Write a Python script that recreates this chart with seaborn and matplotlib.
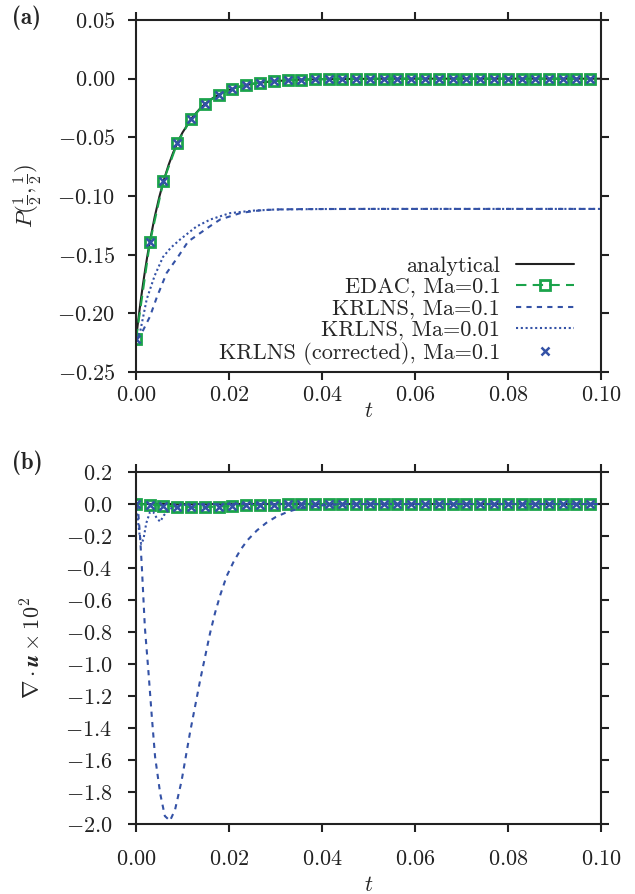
import numpy as np
import pandas as pd
import matplotlib
matplotlib.use("Agg")
import matplotlib.pyplot as plt
from matplotlib.ticker import FuncFormatter, MultipleLocator
import seaborn as sns

# ---------------- data ----------------
# marker sample times (EDAC / KRLNS corrected)
t_mark = [0.0000, 0.0030, 0.0059, 0.0089, 0.0118, 0.0148, 0.0178, 0.0207, 0.0237,
          0.0266, 0.0296, 0.0326, 0.0355, 0.0385, 0.0414, 0.0444, 0.0474, 0.0503,
          0.0533, 0.0562, 0.0592, 0.0622, 0.0651, 0.0681, 0.0710, 0.0740, 0.0770,
          0.0799, 0.0829, 0.0858, 0.0888, 0.0918, 0.0947, 0.0977]

# panel (a): pressure at the centre
t_ana = [0.0, 0.0005, 0.001, 0.0015, 0.002, 0.0025, 0.003, 0.004, 0.005, 0.006, 0.007,
         0.008, 0.009, 0.010, 0.012, 0.014, 0.016, 0.018, 0.020, 0.023, 0.026, 0.030,
         0.035, 0.040, 0.050, 0.060, 0.080, 0.100]
p_ana = [-0.2220, -0.2052, -0.1896, -0.1752, -0.1619, -0.1496, -0.1383, -0.1181, -0.1009,
         -0.0862, -0.0736, -0.0629, -0.0537, -0.0459, -0.0335, -0.0244, -0.0178, -0.0130,
         -0.0095, -0.0059, -0.0037, -0.0020, -0.0009, -0.0004, -0.0001, 0.0, 0.0, 0.0]
p_edac = [-0.2220, -0.1392, -0.0873, -0.0547, -0.0343, -0.0215, -0.0135, -0.0085, -0.0053,
          -0.0033, -0.0021, -0.0013, -0.0008, -0.0005, -0.0003, -0.0002, -0.0001, -0.0001,
          0.0, 0.0, 0.0, 0.0, 0.0, 0.0, 0.0, 0.0, 0.0, 0.0, 0.0, 0.0, 0.0, 0.0, 0.0, 0.0]
p_corr = [-0.2220, -0.1392, -0.0873, -0.0547, -0.0343, -0.0215, -0.0135, -0.0085, -0.0053,
          -0.0033, -0.0021, -0.0013, -0.0008, -0.0005, -0.0003, -0.0002, -0.0001, -0.0001,
          0.0, 0.0, 0.0, 0.0, 0.0, 0.0, 0.0, 0.0, 0.0, 0.0, 0.0, 0.0, 0.0, 0.0, 0.0, 0.0]
t_k01 = [0.0, 0.0012, 0.003, 0.0045, 0.0066, 0.0090, 0.0112, 0.0138, 0.0160, 0.0181,
         0.0205, 0.0224, 0.0250, 0.0273, 0.0310, 0.0350, 0.0400, 0.0500, 0.0700, 0.1000]
p_k01 = [-0.2220, -0.2170, -0.2027, -0.1860, -0.1655, -0.1520, -0.1388, -0.1316, -0.1255,
         -0.1200, -0.1170, -0.1146, -0.1130, -0.1120, -0.1114, -0.1112, -0.1111, -0.1110,
         -0.1110, -0.1110]
t_k001 = [0.0, 0.0009, 0.0023, 0.0040, 0.0058, 0.0075, 0.0095, 0.0130, 0.0160, 0.0202,
          0.0250, 0.0300, 0.0400, 0.0500, 0.0700, 0.1000]
p_k001 = [-0.2220, -0.2155, -0.1880, -0.1680, -0.1520, -0.1440, -0.1370, -0.1260, -0.1200,
          -0.1146, -0.1125, -0.1115, -0.1111, -0.1110, -0.1110, -0.1110]

# panel (b): divergence x 10^2
t_div_ana = [0.0, 0.1]
d_ana = [0.0, 0.0]
d_edac = [0.0, -0.004, -0.010, -0.016, -0.020, -0.019, -0.016, -0.012, -0.008, -0.005,
          -0.003, -0.002, -0.001, 0.0, 0.0, 0.0, 0.0, 0.0, 0.0, 0.0, 0.0, 0.0, 0.0, 0.0,
          0.0, 0.0, 0.0, 0.0, 0.0, 0.0, 0.0, 0.0, 0.0, 0.0]
d_corr = [0.0, -0.004, -0.010, -0.016, -0.020, -0.019, -0.016, -0.012, -0.008, -0.005,
          -0.003, -0.002, -0.001, 0.0, 0.0, 0.0, 0.0, 0.0, 0.0, 0.0, 0.0, 0.0, 0.0, 0.0,
          0.0, 0.0, 0.0, 0.0, 0.0, 0.0, 0.0, 0.0, 0.0, 0.0]
t_dk01 = [0.0, 0.0005, 0.00086, 0.00123, 0.0019, 0.00265, 0.0034, 0.0041, 0.0052, 0.0062,
          0.0073, 0.0084, 0.0098, 0.0116, 0.0138, 0.0159, 0.0170, 0.0181, 0.0195, 0.0210,
          0.0225, 0.0240, 0.0260, 0.0280, 0.0300, 0.0325, 0.0350, 0.0380, 0.0420, 0.0470,
          0.0600, 0.1000]
d_k01 = [0.0, -0.06, -0.20, -0.38, -0.77, -1.04, -1.33, -1.58, -1.81, -1.95, -1.98, -1.91,
         -1.73, -1.43, -1.10, -0.81, -0.68, -0.57, -0.45, -0.36, -0.285, -0.225, -0.165,
         -0.118, -0.082, -0.050, -0.028, -0.013, -0.004, 0.0, 0.0, 0.0]
t_dk001 = [0.0, 0.0004, 0.0008, 0.0011, 0.0016, 0.0022, 0.0030, 0.0037, 0.0045, 0.0052,
           0.0060, 0.0073, 0.0090, 0.0120, 0.0500, 0.1000]
d_k001 = [0.0, -0.10, -0.20, -0.25, -0.22, -0.12, -0.05, -0.05, -0.09, -0.11, -0.07, -0.03,
          -0.01, 0.0, 0.0, 0.0]

labels = ["analytical", "EDAC, Ma=0.1", "KRLNS, Ma=0.1", "KRLNS, Ma=0.01",
          "KRLNS (corrected), Ma=0.1"]
xticks = [0.00, 0.02, 0.04, 0.06, 0.08, 0.10]

# ---------------- style ----------------
sns.set_theme(style="ticks")
plt.rcParams.update({
    "font.family": ["cmr10", "DejaVu Serif"],
    "mathtext.fontset": "cm",
    "axes.linewidth": 1.5,
    "axes.edgecolor": "#222222",
    "xtick.color": "#222222",
    "ytick.color": "#222222",
    "axes.unicode_minus": False,
})

GREEN = "#1ba34b"
BLUE = "#3452a6"
BLACK = "#222222"

fig = plt.figure(figsize=(6.35, 8.94), dpi=100)
ax1 = fig.add_axes([0.2142, 0.5839, 0.7323, 0.3937])
ax2 = fig.add_axes([0.2142, 0.0783, 0.7323, 0.3937])


def draw(ax, ta, ya, ym_edac, ym_corr, t1, y1, t2, y2, with_labels):
    lab = (lambda i: labels[i]) if with_labels else (lambda i: None)
    sns.lineplot(x=ta, y=ya, ax=ax, color=BLACK, lw=1.5, label=lab(0), legend=False)
    sns.lineplot(x=t_mark, y=ym_edac, ax=ax, color=GREEN, lw=1.5, dashes=False,
                 linestyle=(0, (5, 3)), marker="s", ms=7.5, mfc="none", mec=GREEN,
                 mew=2.0, label=lab(1), legend=False)
    sns.lineplot(x=t1, y=y1, ax=ax, color=BLUE, lw=1.5, linestyle=(0, (2.5, 2.5)),
                 label=lab(2), legend=False)
    sns.lineplot(x=t2, y=y2, ax=ax, color=BLUE, lw=1.5, linestyle=(0, (1, 1.3)),
                 label=lab(3), legend=False)
    sns.lineplot(x=t_mark, y=ym_corr, ax=ax, color=BLUE, linestyle="none", marker="x",
                 ms=5.5, mew=1.8, mec=BLUE, label=lab(4), legend=False)


draw(ax1, t_ana, p_ana, p_edac, p_corr, t_k01, p_k01, t_k001, p_k001, True)
draw(ax2, t_div_ana, d_ana, d_edac, d_corr, t_dk01, d_k01, t_dk001, d_k001, False)

fmt2 = FuncFormatter(lambda v, p: f"${v:.2f}$".replace("-0.00", "0.00"))
fmt1 = FuncFormatter(lambda v, p: f"${v:.1f}$".replace("-0.0", "0.0"))

for ax in (ax1, ax2):
    ax.set_xlim(0, 0.1)
    ax.set_xticks(xticks)
    ax.xaxis.set_major_formatter(fmt2)
    ax.tick_params(which="both", direction="out", length=6, width=1.5,
                   top=True, right=True, labelsize=16)
    for s in ax.spines.values():
        s.set_visible(True)
        s.set_linewidth(1.5)

ax1.set_ylim(-0.25, 0.05)
ax1.yaxis.set_major_locator(MultipleLocator(0.05))
ax1.yaxis.set_major_formatter(fmt2)
ax1.tick_params(axis="y", pad=9)
ax1.tick_params(axis="x", pad=3.5)

ax2.set_ylim(-2.0, 0.2)
ax2.yaxis.set_major_locator(MultipleLocator(0.2))
ax2.yaxis.set_major_formatter(fmt1)
ax2.tick_params(axis="y", pad=11)
ax2.tick_params(axis="x", pad=12)

ax1.set_xlabel("$t$", fontsize=16)
ax1.set_ylabel(r"$P(\frac{1}{2},\frac{1}{2})$", fontsize=16.5)
ax2.set_xlabel("$t$", fontsize=16)
ax2.set_ylabel(r"$\nabla\cdot\mathbfit{u}\times10^2$", fontsize=16)
ax1.xaxis.set_label_coords(0.501, -0.085)
ax2.xaxis.set_label_coords(0.501, -0.145)
ax1.yaxis.set_label_coords(-0.196, 0.5)
ax2.yaxis.set_label_coords(-0.196, 0.5)

fig.text(12 / 635, 1 - 6 / 894, "(a)", family="cmb10", fontsize=16.5, va="top", ha="left")
fig.text(12 / 635, 1 - 450 / 894, "(b)", family="cmb10", fontsize=16.5, va="top", ha="left")

ax1.legend(loc="lower right", bbox_to_anchor=(0.96, -0.005), frameon=False,
           markerfirst=False, fontsize=16, labelspacing=0.07, handlelength=2.6,
           handletextpad=0.7, borderaxespad=0.0)

fig.savefig("out.png", dpi=100)
